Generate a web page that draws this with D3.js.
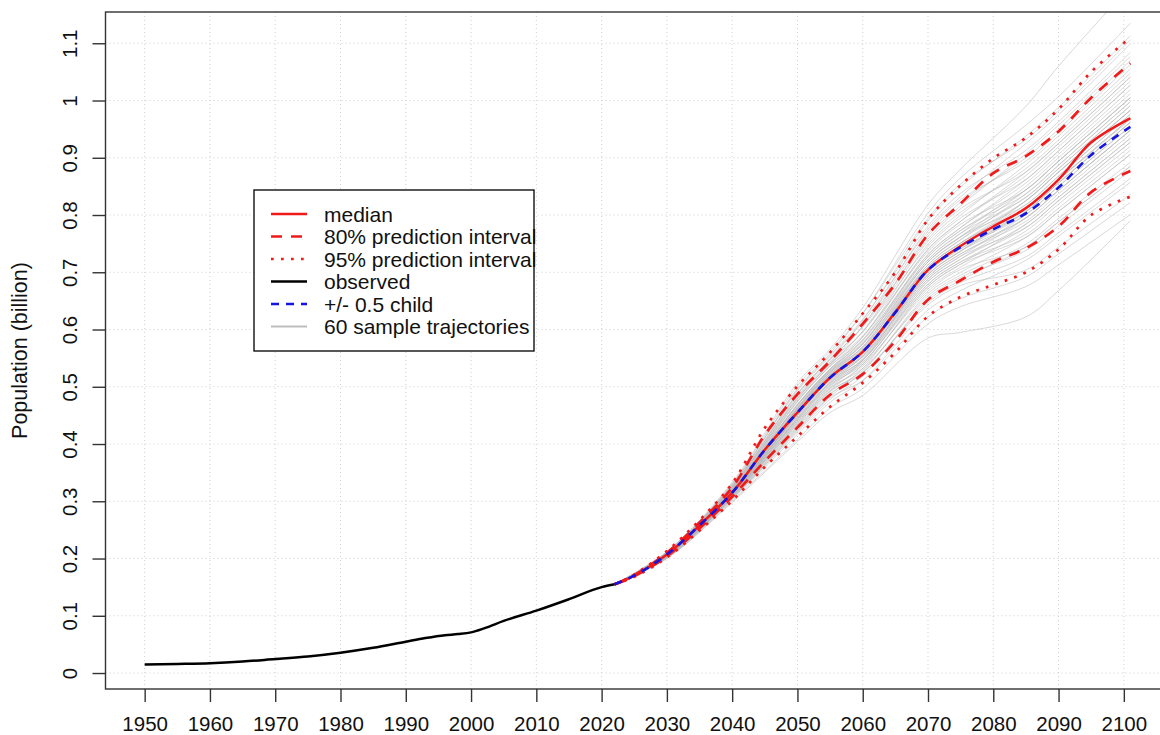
<!DOCTYPE html>
<html>
<head>
<meta charset="utf-8">
<script src="https://cdn.jsdelivr.net/npm/d3@7"></script>
<style>
  html, body { margin: 0; padding: 0; background: #ffffff; }
  svg { display: block; font-family: "Liberation Sans", Arial, Helvetica, sans-serif; }
</style>
</head>
<body>
<script>
// ---------------- DATA ----------------
const xTicks = [1950,1960,1970,1980,1990,2000,2010,2020,2030,2040,2050,2060,2070,2080,2090,2100];
const yTicks = [0,0.1,0.2,0.3,0.4,0.5,0.6,0.7,0.8,0.9,1,1.1];

const obsYears  = [1950,1955,1960,1965,1970,1975,1980,1985,1990,1993,1996,1998,2000,2002,2005,2010,2015,2020,2022];
const obsValues = [0.015,0.0158,0.017,0.020,0.0245,0.029,0.0355,0.044,0.0547,0.061,0.066,0.068,0.071,0.078,0.091,0.109,0.129,0.150,0.155];

const projYears = [2022,2025,2030,2035,2040,2045,2050,2055,2060,2065,2070,2075,2080,2085,2090,2095,2101];
const median    = [0.155,0.170,0.207,0.258,0.315,0.390,0.455,0.516,0.561,0.630,0.704,0.746,0.780,0.812,0.862,0.927,0.969];
const upper80   = [0.155,0.171,0.210,0.263,0.324,0.416,0.487,0.545,0.610,0.680,0.766,0.820,0.873,0.903,0.946,1.005,1.065];
const upper95   = [0.155,0.172,0.213,0.267,0.331,0.428,0.501,0.560,0.628,0.700,0.792,0.852,0.899,0.935,0.985,1.050,1.110];
const lower80   = [0.155,0.169,0.204,0.253,0.308,0.370,0.429,0.486,0.522,0.580,0.652,0.686,0.718,0.742,0.780,0.840,0.877];
const lower95   = [0.155,0.168,0.202,0.249,0.301,0.360,0.413,0.465,0.507,0.560,0.623,0.657,0.678,0.700,0.740,0.800,0.832];
const halfChild = [0.155,0.170,0.207,0.258,0.315,0.390,0.455,0.516,0.561,0.630,0.704,0.744,0.775,0.803,0.848,0.905,0.954];

const trajYears = [2030,2040,2050,2055,2060,2070,2075,2085,2090,2101];
const trajectories = [
  [0.200,0.300,0.408,0.463,0.497,0.610,0.640,0.675,0.713,0.801],
  [0.202,0.305,0.423,0.481,0.511,0.622,0.654,0.692,0.732,0.822],
  [0.201,0.302,0.417,0.473,0.511,0.634,0.668,0.721,0.763,0.857],
  [0.203,0.308,0.434,0.493,0.525,0.643,0.677,0.704,0.744,0.836],
  [0.202,0.304,0.421,0.478,0.519,0.651,0.686,0.744,0.788,0.885],
  [0.203,0.307,0.429,0.488,0.524,0.647,0.682,0.727,0.769,0.864],
  [0.204,0.309,0.438,0.498,0.532,0.655,0.691,0.738,0.781,0.878],
  [0.202,0.305,0.425,0.483,0.526,0.663,0.700,0.761,0.806,0.906],
  [0.203,0.307,0.431,0.491,0.529,0.659,0.695,0.749,0.794,0.892],
  [0.204,0.311,0.442,0.503,0.539,0.667,0.705,0.744,0.788,0.885],
  [0.203,0.309,0.436,0.496,0.536,0.671,0.709,0.772,0.819,0.920],
  [0.202,0.306,0.427,0.486,0.532,0.675,0.714,0.784,0.831,0.934],
  [0.205,0.312,0.444,0.506,0.543,0.675,0.714,0.761,0.806,0.906],
  [0.204,0.310,0.440,0.501,0.542,0.679,0.718,0.778,0.825,0.927],
  [0.205,0.313,0.449,0.511,0.547,0.679,0.718,0.766,0.812,0.913],
  [0.203,0.308,0.434,0.493,0.539,0.684,0.723,0.795,0.843,0.948],
  [0.205,0.312,0.446,0.508,0.547,0.684,0.723,0.784,0.831,0.934],
  [0.204,0.311,0.442,0.503,0.546,0.688,0.728,0.801,0.850,0.955],
  [0.205,0.314,0.451,0.513,0.552,0.688,0.728,0.778,0.825,0.927],
  [0.205,0.312,0.444,0.506,0.549,0.692,0.732,0.795,0.843,0.948],
  [0.206,0.314,0.453,0.516,0.554,0.692,0.732,0.789,0.837,0.941],
  [0.204,0.309,0.438,0.498,0.546,0.696,0.737,0.812,0.862,0.969],
  [0.205,0.313,0.449,0.511,0.553,0.696,0.737,0.806,0.856,0.962],
  [0.206,0.316,0.457,0.520,0.559,0.696,0.737,0.795,0.843,0.948],
  [0.205,0.314,0.451,0.513,0.556,0.700,0.741,0.806,0.856,0.962],
  [0.207,0.317,0.460,0.522,0.562,0.700,0.741,0.801,0.850,0.955],
  [0.205,0.312,0.446,0.508,0.554,0.704,0.746,0.825,0.875,0.983],
  [0.206,0.315,0.456,0.519,0.561,0.705,0.747,0.811,0.861,0.967],
  [0.207,0.317,0.462,0.525,0.565,0.704,0.746,0.806,0.856,0.962],
  [0.206,0.314,0.453,0.516,0.560,0.709,0.751,0.818,0.868,0.976],
  [0.206,0.316,0.457,0.520,0.563,0.709,0.751,0.825,0.875,0.983],
  [0.207,0.318,0.464,0.527,0.569,0.709,0.751,0.812,0.862,0.969],
  [0.205,0.314,0.451,0.513,0.560,0.713,0.757,0.837,0.887,0.998],
  [0.207,0.317,0.460,0.522,0.567,0.713,0.757,0.825,0.875,0.983],
  [0.207,0.319,0.467,0.529,0.574,0.718,0.762,0.818,0.868,0.976],
  [0.206,0.315,0.455,0.518,0.565,0.718,0.762,0.844,0.894,1.005],
  [0.207,0.317,0.462,0.525,0.570,0.718,0.762,0.831,0.881,0.991],
  [0.208,0.320,0.469,0.531,0.577,0.722,0.768,0.831,0.881,0.991],
  [0.207,0.317,0.460,0.522,0.570,0.722,0.768,0.850,0.900,1.012],
  [0.207,0.318,0.464,0.527,0.575,0.727,0.773,0.844,0.894,1.005],
  [0.208,0.321,0.474,0.536,0.582,0.727,0.773,0.837,0.887,0.998],
  [0.207,0.317,0.462,0.525,0.575,0.731,0.778,0.862,0.912,1.027],
  [0.208,0.320,0.469,0.531,0.580,0.731,0.778,0.856,0.906,1.019],
  [0.209,0.323,0.479,0.540,0.589,0.736,0.784,0.844,0.894,1.005],
  [0.207,0.319,0.467,0.529,0.582,0.740,0.789,0.875,0.925,1.041],
  [0.208,0.321,0.474,0.536,0.587,0.740,0.789,0.869,0.919,1.034],
  [0.209,0.325,0.483,0.544,0.596,0.745,0.795,0.862,0.912,1.027],
  [0.208,0.320,0.469,0.531,0.587,0.749,0.800,0.888,0.938,1.055],
  [0.209,0.323,0.479,0.540,0.596,0.754,0.805,0.881,0.931,1.048],
  [0.210,0.326,0.488,0.549,0.604,0.758,0.811,0.875,0.925,1.041],
  [0.209,0.322,0.476,0.538,0.597,0.763,0.816,0.907,0.957,1.077],
  [0.210,0.325,0.486,0.547,0.606,0.767,0.822,0.900,0.950,1.070],
  [0.210,0.328,0.493,0.553,0.613,0.772,0.827,0.894,0.944,1.063],
  [0.209,0.324,0.481,0.542,0.606,0.776,0.832,0.925,0.975,1.099],
  [0.211,0.329,0.495,0.555,0.618,0.781,0.838,0.913,0.963,1.084],
  [0.210,0.326,0.488,0.549,0.616,0.790,0.849,0.938,0.988,1.113],
  [0.212,0.331,0.502,0.562,0.628,0.794,0.854,0.932,0.982,1.106],
  [0.211,0.329,0.497,0.558,0.628,0.803,0.865,0.957,1.007,1.135],
  [0.212,0.333,0.507,0.566,0.638,0.818,0.880,0.990,1.060,1.200],
  [0.200,0.298,0.404,0.455,0.485,0.585,0.595,0.622,0.668,0.790]
];

const legendLabels = ["median","80% prediction interval","95% prediction interval","observed","+/- 0.5 child","60 sample trajectories"];

// ---------------- CHART ----------------
const W = 1160, H = 735;
const svg = d3.select("body").append("svg").attr("width", W).attr("height", H);
svg.append("rect").attr("width", W).attr("height", H).attr("fill", "#ffffff");

const plotL = 105.5, plotR = 1163, plotT = 12, plotB = 689;
const x = d3.scaleLinear().domain([1944, 2106]).range([plotL, plotR]);
const y = d3.scaleLinear().domain([-0.0279, 1.1546]).range([plotB, plotT]);

svg.append("clipPath").attr("id", "clip")
  .append("rect").attr("x", plotL).attr("y", plotT).attr("width", plotR - plotL).attr("height", plotB - plotT);

// grid
const grid = svg.append("g").attr("stroke", "#cfcfcf").attr("stroke-width", 1).attr("stroke-dasharray", "1,3");
grid.selectAll("line.v").data(xTicks).join("line").attr("class", "v")
  .attr("x1", d => x(d)).attr("x2", d => x(d)).attr("y1", plotT).attr("y2", plotB);
grid.selectAll("line.h").data(yTicks).join("line").attr("class", "h")
  .attr("x1", plotL).attr("x2", plotR).attr("y1", d => y(d)).attr("y2", d => y(d));

const lineObs = d3.line().x(d => x(d[0])).y(d => y(d[1])).curve(d3.curveMonotoneX);
const line = d3.line().x(d => x(d[0])).y(d => y(d[1])).curve(d3.curveCatmullRom.alpha(0.5));
const plot = svg.append("g").attr("clip-path", "url(#clip)");

const start = [obsYears[obsYears.length - 1], obsValues[obsValues.length - 1]];

// sample trajectories
plot.append("g").selectAll("path").data(trajectories).join("path")
  .attr("d", t => line([start].concat(trajYears.map((yr, i) => [yr, t[i]]))))
  .attr("fill", "none").attr("stroke", "#b4b4b4").attr("stroke-opacity", 0.5).attr("stroke-width", 1);

function series(vals) { return projYears.map((yr, i) => [yr, vals[i]]); }

const redC = "#f01a1a", blueC = "#1515e0";
const styles = {
  median: {stroke: redC, w: 2.5, dash: null},
  pi80:   {stroke: redC, w: 2.7, dash: "11,9"},
  pi95:   {stroke: redC, w: 2.7, dash: "2.7,7.3"},
  obs:    {stroke: "#000000", w: 2.5, dash: null},
  half:   {stroke: blueC, w: 2.6, dash: "8,7"},
  traj:   {stroke: "#bebebe", w: 2, dash: null}
};

function draw(g, data, st, gen) {
  g.append("path").attr("d", (gen || line)(data)).attr("fill", "none")
    .attr("stroke", st.stroke).attr("stroke-width", st.w)
    .attr("stroke-dasharray", st.dash);
}
draw(plot, series(median), styles.median);
draw(plot, series(upper80), styles.pi80);
draw(plot, series(lower80), styles.pi80);
draw(plot, series(upper95), styles.pi95);
draw(plot, series(lower95), styles.pi95);
draw(plot, obsYears.map((yr, i) => [yr, obsValues[i]]), styles.obs, lineObs);
draw(plot, series(halfChild), styles.half);

// box
svg.append("rect").attr("x", plotL).attr("y", plotT).attr("width", plotR - plotL).attr("height", plotB - plotT)
  .attr("fill", "none").attr("stroke", "#333").attr("stroke-width", 1.4);

// axes
const xAxis = svg.append("g").attr("transform", `translate(0,${plotB})`)
  .call(d3.axisBottom(x).tickValues(xTicks).tickSize(13).tickFormat(d3.format("d")));
xAxis.select(".domain").remove();
xAxis.selectAll("line").attr("stroke", "#333").attr("stroke-width", 1.4);
xAxis.selectAll("text").attr("y", 42).attr("dy", 0).attr("font-size", 20.5)
  .attr("font-family", "Liberation Sans, Arial, sans-serif").attr("fill", "#111");

const yAxis = svg.append("g").attr("transform", `translate(${plotL},0)`)
  .call(d3.axisLeft(y).tickValues(yTicks).tickSize(13).tickFormat(d => String(+d.toFixed(1))));
yAxis.select(".domain").remove();
yAxis.selectAll("line").attr("stroke", "#333").attr("stroke-width", 1.4);
yAxis.selectAll("text").attr("x", 0).attr("dy", 0).attr("text-anchor", "middle")
  .attr("transform", `translate(${77 - plotL},0) rotate(-90)`)
  .attr("font-size", 20.5).attr("font-family", "Liberation Sans, Arial, sans-serif").attr("fill", "#111");

svg.append("text").attr("transform", `translate(27,${(plotT + plotB) / 2}) rotate(-90)`)
  .attr("text-anchor", "middle").attr("font-size", 21.5).attr("fill", "#111")
  .text("Population (billion)");

// legend
const lg = svg.append("g");
lg.append("rect").attr("x", 254).attr("y", 190).attr("width", 280).attr("height", 161)
  .attr("fill", "#ffffff").attr("stroke", "#111").attr("stroke-width", 1.4);
const legStyles = [styles.median, styles.pi80, styles.pi95, styles.obs, styles.half, styles.traj];
legendLabels.forEach((lab, i) => {
  const cy = 214 + i * 22.5;
  const st = legStyles[i];
  lg.append("line").attr("x1", 271).attr("x2", 307).attr("y1", cy).attr("y2", cy)
    .attr("stroke", st.stroke).attr("stroke-width", st.w).attr("stroke-dasharray", st.dash);
  lg.append("text").attr("x", 324).attr("y", cy + 7.5).attr("font-size", 21).attr("fill", "#111").text(lab);
});
</script>
</body>
</html>
